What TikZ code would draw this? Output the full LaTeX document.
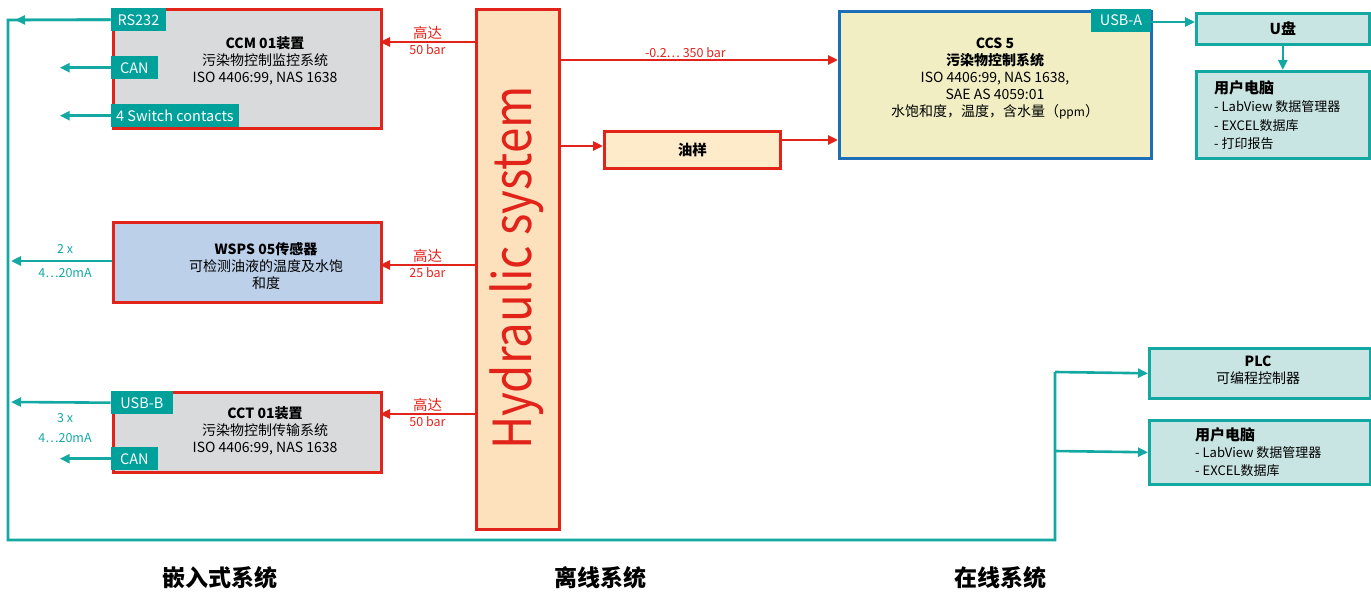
\documentclass[tikz,border=0pt]{standalone}
\usepackage{fontspec}
\setmainfont{Noto Sans CJK SC}
\newfontfamily\hydfont{Noto Sans CJK SC}[FakeStretch=0.87]
\usetikzlibrary{arrows.meta}
\definecolor{hred}{RGB}{226,35,26}
\definecolor{tealdark}{RGB}{0,160,155}
\definecolor{tealline}{RGB}{20,168,163}
\definecolor{tealfill}{RGB}{201,229,227}
\definecolor{grayfill}{RGB}{217,218,220}
\definecolor{bluefill}{RGB}{188,208,234}
\definecolor{peach}{RGB}{252,225,188}
\definecolor{peachlight}{RGB}{253,235,201}
\definecolor{ccsfill}{RGB}{240,238,194}
\definecolor{ccsblue}{RGB}{28,110,182}
\tikzset{
  rbox/.style={draw=hred, line width=2.6pt, inner sep=0pt},
  tbox/.style={draw=tealline, fill=tealfill, line width=2.6pt, inner sep=0pt},
  tab/.style={fill=tealdark, text=white, inner sep=0pt, minimum height=23pt, font=\fontsize{14.5}{16}\selectfont},
  txt/.style={align=center, font=\fontsize{14}{17}\selectfont, inner sep=0pt},
  ltxt/.style={align=left, font=\fontsize{13}{18.5}\selectfont, inner sep=0pt, anchor=west},
  rarrow/.style={draw=hred, line width=2.6pt, -{Triangle[length=10pt,width=9pt]}},
  tline/.style={draw=tealline, line width=2.6pt},
  tarrow/.style={tline, -{Triangle[length=10pt,width=9pt]}},
  rlab/.style={text=hred, inner sep=1pt},
  tlab/.style={text=tealline, inner sep=0pt, font=\fontsize{12.5}{14}\selectfont},
  sect/.style={font=\fontsize{23}{26}\selectfont\bfseries, inner sep=0pt},
}
\begin{document}
\begin{tikzpicture}[x=1pt,y=-1pt]
\useasboundingbox (0,0) rectangle (1371,594);

% ---------- embedded boxes ----------
\node[rbox, fill=grayfill, minimum width=268pt, minimum height=119pt, anchor=north west] (ccm) at (112,8) {};
\node[rbox, fill=bluefill, minimum width=268pt, minimum height=80pt, anchor=north west] (wsps) at (112,221) {};
\node[rbox, fill=grayfill, minimum width=268pt, minimum height=80pt, anchor=north west] (cct) at (112,391) {};

\node[txt] (ccmtxt) at (265,61) {\textbf{CCM 01装置}\\污染物控制监控系统\\ISO 4406:99, NAS 1638};
\node[txt] (wspstxt) at (266,266) {\textbf{WSPS 05传感器}\\可检测油液的温度及水饱\\和度};
\node[txt] (ccttxt) at (265,431) {\textbf{CCT 01装置}\\污染物控制传输系统\\ISO 4406:99, NAS 1638};

% tabs
\node[tab, minimum width=55pt, anchor=north west] (rs232) at (110.7,8) {RS232};
\node[tab, minimum width=47pt, anchor=north west] (can1) at (110.7,56) {CAN};
\node[tab, minimum width=128pt, anchor=north west] (sw) at (110.7,104) {4 Switch contacts};
\node[tab, minimum width=62pt, anchor=north west] (usbb) at (110.7,391) {USB-B};
\node[tab, minimum width=47pt, anchor=north west] (can2) at (110.7,447) {CAN};

% ---------- hydraulic ----------
\node[rbox, fill=peach, minimum width=83pt, minimum height=520pt, anchor=north west] (hyd) at (475,8) {};
\node[rotate=90, text=hred, font=\hydfont\fontsize{52.5}{60}\selectfont, inner sep=0pt] (hydtxt) at (517,268) {Hydraulic system};

\coordinate (ccmin) at (380,42);
\coordinate (wspsin) at (380,265);
\coordinate (cctin) at (380,414);
\draw[rarrow] (hyd.west |- ccmin) -- node[rlab, above, font=\fontsize{14.5}{16}\selectfont] (l1a) {高达} node[rlab, below, font=\fontsize{12.5}{13}\selectfont] (l1b) {50 bar} (ccmin);
\draw[rarrow] (hyd.west |- wspsin) -- node[rlab, above, font=\fontsize{14.5}{16}\selectfont] (l2a) {高达} node[rlab, below, font=\fontsize{12.5}{13}\selectfont] (l2b) {25 bar} (wspsin);
\draw[rarrow] (hyd.west |- cctin) -- node[rlab, above, font=\fontsize{14.5}{16}\selectfont] (l3a) {高达} node[rlab, below, font=\fontsize{12.5}{13}\selectfont] (l3b) {50 bar} (cctin);

% ---------- offline / online ----------
\node[rbox, fill=peachlight, minimum width=176pt, minimum height=37pt, anchor=north west, font=\fontsize{14.5}{16}\selectfont\bfseries] (oil) at (603,130) {油样};
\node[draw=ccsblue, fill=ccsfill, line width=2.6pt, inner sep=0pt, minimum width=312pt, minimum height=147pt, anchor=north west] (ccs) at (838,10) {};
\node[txt] (ccstxt) at (995,79) {\textbf{CCS 5}\\\textbf{污染物控制系统}\\ISO 4406:99, NAS 1638,\\SAE AS 4059:01\\水饱和度，温度，含水量（{\fontsize{12}{14}\selectfont ppm}）};
\node[tab, minimum width=60pt, anchor=north east] (usba) at (1151.3,8.7) {USB-A};

\coordinate (ccsin1) at (838,60);
\coordinate (oilin) at (603,146);
\coordinate (oilout) at (779,140);
\coordinate (ccsin2) at (838,140);
\draw[rarrow] (hyd.east |- ccsin1) -- node[rlab, above, pos=0.45, font=\fontsize{12.5}{13}\selectfont] (l4) {-0.2… 350 bar} (ccsin1);
\draw[rarrow] (hyd.east |- oilin) -- (oilin);
\draw[rarrow] (oilout) -- (ccsin2);

\node[tbox, minimum width=173pt, minimum height=31pt, anchor=north west, font=\fontsize{15}{17}\selectfont\bfseries] (udisk) at (1195,12) {U盘};
\node[tbox, minimum width=173pt, minimum height=87pt, anchor=north west] (pc1) at (1195,70) {};
\node[ltxt] (pc1txt) at (1214,115) {{\fontsize{15}{17}\selectfont\bfseries 用户电脑}\\- LabView 数据管理器\\- EXCEL数据库\\- 打印报告};
\coordinate (udin) at (1195,22);
\draw[tarrow] (usba.east |- udin) -- (udin);
\draw[tarrow] (udisk.south) -- (pc1.north);

\node[tbox, minimum width=221pt, minimum height=50pt, anchor=north west] (plc) at (1148,347) {};
\node[txt] (plctxt) at (1258,370) {\textbf{PLC}\\可编程控制器};
\node[tbox, minimum width=221pt, minimum height=64pt, anchor=north west] (pc2) at (1148,419) {};
\node[ltxt, font=\fontsize{13}{17.5}\selectfont] (pc2txt) at (1195,452) {{\fontsize{15}{17}\selectfont\bfseries 用户电脑}\\- LabView 数据管理器\\- EXCEL数据库};

% ---------- teal bus ----------
\coordinate (lcorner) at (8,20);
\coordinate (bl) at (8,540);
\coordinate (br) at (1055,540);
\coordinate (bplc) at (1055,372);
\coordinate (bpc) at (1055,451);
\draw[tline, line join=miter] (rs232.west) -- (lcorner) -- (bl) -- (br) -- (bplc);
\draw[tarrow] (bplc) -- (plc.west);
\draw[tarrow] (bpc) -- (pc2.west);
\coordinate (rsarr) at (15,20);
\draw[tarrow] (rs232.west) -- (rsarr);
\draw[tarrow] (can1.west) -- ++(-51,0) coordinate (can1end);
\draw[tarrow] (sw.west) -- ++(-51,0) coordinate (swend);
\coordinate (wspsout) at (11,261);
\draw[tarrow] (wsps.west |- wspsout) -- (wspsout);
\node[tlab] (w2x) at (65,249) {2 x};
\node[tlab] (wma) at (65,273) {4…20mA};
\coordinate (usbbout) at (11,402);
\draw[tarrow] (usbb.west) -- (usbbout);
\node[tlab] (c3x) at (65,418) {3 x};
\node[tlab] (cma) at (65,438) {4…20mA};
\draw[tarrow] (can2.west) -- ++(-51,0) coordinate (can2end);

% ---------- section labels ----------
\node[sect] (s1) at (220,578) {嵌入式系统};
\node[sect] (s2) at (600,578) {离线系统};
\node[sect] (s3) at (1000,578) {在线系统};
\end{tikzpicture}
\end{document}
